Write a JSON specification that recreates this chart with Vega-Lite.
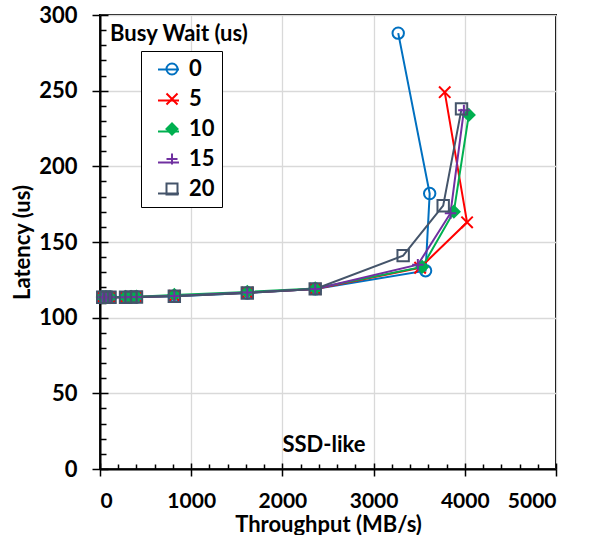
{
  "$schema": "https://vega.github.io/schema/vega-lite/v6.json",
  "autosize": {"type": "none"},
  "width": 456,
  "height": 454,
  "padding": {"left": 100, "top": 15, "right": 33, "bottom": 66},
  "background": "white",
  "config": {
    "view": {"stroke": "black", "strokeWidth": 2},
    "font": "Lato",
    "axis": {
      "labelFont": "Lato", "labelFontSize": 22, "labelFontWeight": "bold", "labelColor": "black",
      "titleFont": "Lato", "titleFontSize": 22, "titleFontWeight": "bold", "titleColor": "black",
      "gridColor": "#d9d9d9", "gridWidth": 1.3,
      "tickColor": "black", "tickWidth": 1.5,
      "domainColor": "black", "domainWidth": 2
    },
    "legend": {"labelFont": "Lato", "labelFontSize": 22, "labelFontWeight": "bold", "labelColor": "black"}
  },
  "datasets": {
    "pts": [
      {"s": "0", "i": 0, "x": 30, "y": 113.5}, {"s": "0", "i": 1, "x": 65, "y": 113.5}, {"s": "0", "i": 2, "x": 110, "y": 113.5},
      {"s": "0", "i": 3, "x": 280, "y": 113.5}, {"s": "0", "i": 4, "x": 340, "y": 113.6}, {"s": "0", "i": 5, "x": 400, "y": 113.7},
      {"s": "0", "i": 6, "x": 815, "y": 114.2}, {"s": "0", "i": 7, "x": 1615, "y": 116.3}, {"s": "0", "i": 8, "x": 2360, "y": 119},
      {"s": "0", "i": 9, "x": 3570, "y": 131}, {"s": "0", "i": 10, "x": 3615, "y": 182}, {"s": "0", "i": 11, "x": 3270, "y": 288},

      {"s": "5", "i": 0, "x": 30, "y": 113.5}, {"s": "5", "i": 1, "x": 65, "y": 113.5}, {"s": "5", "i": 2, "x": 110, "y": 113.5},
      {"s": "5", "i": 3, "x": 280, "y": 113.5}, {"s": "5", "i": 4, "x": 340, "y": 113.6}, {"s": "5", "i": 5, "x": 400, "y": 113.7},
      {"s": "5", "i": 6, "x": 815, "y": 114.4}, {"s": "5", "i": 7, "x": 1615, "y": 116.5}, {"s": "5", "i": 8, "x": 2360, "y": 119},
      {"s": "5", "i": 9, "x": 3510, "y": 133}, {"s": "5", "i": 10, "x": 4025, "y": 163}, {"s": "5", "i": 11, "x": 3780, "y": 249},

      {"s": "10", "i": 0, "x": 30, "y": 113.6}, {"s": "10", "i": 1, "x": 65, "y": 113.6}, {"s": "10", "i": 2, "x": 110, "y": 113.6},
      {"s": "10", "i": 3, "x": 280, "y": 113.7}, {"s": "10", "i": 4, "x": 340, "y": 113.8}, {"s": "10", "i": 5, "x": 400, "y": 113.9},
      {"s": "10", "i": 6, "x": 815, "y": 115}, {"s": "10", "i": 7, "x": 1615, "y": 117}, {"s": "10", "i": 8, "x": 2360, "y": 119.3},
      {"s": "10", "i": 9, "x": 3533, "y": 133.5}, {"s": "10", "i": 10, "x": 3880, "y": 170}, {"s": "10", "i": 11, "x": 4044, "y": 234},

      {"s": "15", "i": 0, "x": 30, "y": 113.5}, {"s": "15", "i": 1, "x": 65, "y": 113.5}, {"s": "15", "i": 2, "x": 110, "y": 113.5},
      {"s": "15", "i": 3, "x": 280, "y": 113.5}, {"s": "15", "i": 4, "x": 340, "y": 113.6}, {"s": "15", "i": 5, "x": 400, "y": 113.7},
      {"s": "15", "i": 6, "x": 815, "y": 114.3}, {"s": "15", "i": 7, "x": 1615, "y": 116.6}, {"s": "15", "i": 8, "x": 2360, "y": 119},
      {"s": "15", "i": 9, "x": 3485, "y": 135}, {"s": "15", "i": 10, "x": 3843, "y": 169}, {"s": "15", "i": 11, "x": 3990, "y": 237},

      {"s": "20", "i": 0, "x": 30, "y": 113.5}, {"s": "20", "i": 1, "x": 65, "y": 113.5}, {"s": "20", "i": 2, "x": 110, "y": 113.5},
      {"s": "20", "i": 3, "x": 280, "y": 113.5}, {"s": "20", "i": 4, "x": 340, "y": 113.6}, {"s": "20", "i": 5, "x": 400, "y": 113.7},
      {"s": "20", "i": 6, "x": 815, "y": 114.2}, {"s": "20", "i": 7, "x": 1615, "y": 116.3}, {"s": "20", "i": 8, "x": 2360, "y": 119},
      {"s": "20", "i": 9, "x": 3324, "y": 141}, {"s": "20", "i": 10, "x": 3763, "y": 174}, {"s": "20", "i": 11, "x": 3964, "y": 238}
    ],
    "notes": [
      {"label": "Busy Wait (us)", "x": 110, "y": 283},
      {"label": "SSD-like", "x": 2456, "y": 11.4}
    ]
  },
  "resolve": {"axis": {"x": "independent", "y": "independent"}},
  "layer": [
    {
      "data": {"name": "pts"},
      "mark": {"type": "line", "strokeWidth": 2},
      "encoding": {
        "x": {"field": "x", "type": "quantitative",
              "scale": {"domain": [0, 5000], "nice": false},
              "axis": {"orient": "bottom", "values": [0, 1000, 2000, 3000, 4000, 5000], "format": "d", "tickSize": 7, "labelPadding": 14, "labelFontSize": 21, "grid": true, "title": "Throughput (MB/s)", "titlePadding": 3}},
        "y": {"field": "y", "type": "quantitative",
              "scale": {"domain": [0, 300], "nice": false},
              "axis": {"orient": "left", "values": [0, 50, 100, 150, 200, 250, 300], "format": "d", "tickSize": 8, "labelPadding": 15, "grid": true, "title": "Latency (us)", "titlePadding": 4}},
        "stroke": {"field": "s", "type": "nominal",
                   "scale": {"domain": ["20", "15", "10", "5", "0"], "range": ["#44546A", "#7030A0", "#00B050", "#FF0000", "#0070C0"]},
                   "legend": {"orient": "none", "legendX": 41, "legendY": 36, "title": null, "padding": 7,
                              "values": ["0", "5", "10", "15", "20"], "labelExpr": "''",
                              "symbolType": "stroke", "symbolSize": 441, "symbolStrokeWidth": 2, "symbolOffset": 9,
                              "rowPadding": 8, "zindex": 2}},
        "order": {"field": "i", "type": "quantitative"}
      }
    },
    {
      "data": {"name": "pts"},
      "mark": {"type": "point", "filled": false, "strokeWidth": 2, "size": 130, "opacity": 1},
      "encoding": {
        "x": {"field": "x", "type": "quantitative",
              "axis": {"orient": "bottom", "values": [0, 200, 400, 600, 800, 1000, 1200, 1400, 1600, 1800, 2000, 2200, 2400, 2600, 2800, 3000, 3200, 3400, 3600, 3800, 4000, 4200, 4400, 4600, 4800, 5000],
                       "tickSize": {"condition": {"test": "datum.value % 1000 === 0", "value": -6}, "value": -5},
                       "labels": false, "domain": false, "grid": false, "title": null}},
        "y": {"field": "y", "type": "quantitative",
              "axis": {"orient": "left", "values": [0, 10, 20, 30, 40, 50, 60, 70, 80, 90, 100, 110, 120, 130, 140, 150, 160, 170, 180, 190, 200, 210, 220, 230, 240, 250, 260, 270, 280, 290, 300],
                       "tickSize": {"condition": {"test": "datum.value % 50 === 0", "value": -8}, "value": -6},
                       "labels": false, "domain": false, "grid": false, "title": null}},
        "color": {"field": "s", "type": "nominal",
                  "scale": {"domain": ["0", "5", "10", "15", "20"], "range": ["#0070C0", "#FF0000", "#00B050", "#7030A0", "#44546A"]},
                  "legend": {"orient": "none", "legendX": 41, "legendY": 36, "title": null, "padding": 7,
                             "strokeColor": "black", "fillColor": "white", "symbolSize": 121, "symbolStrokeWidth": 2,
                             "symbolOffset": 13, "labelOffset": 6, "rowPadding": 8, "labelColor": "black", "zindex": 1}},
        "shape": {"field": "s", "type": "nominal",
                  "scale": {"domain": ["0", "5", "10", "15", "20"], "range": ["circle", "M-1,-1L1,1M-1,1L1,-1", "diamond", "M-1,0L1,0M0,-1L0,1", "square"]}},
        "fill": {"field": "s", "type": "nominal",
                 "scale": {"domain": ["0", "5", "10", "15", "20"], "range": ["transparent", "transparent", "#00B050", "transparent", "transparent"]}}
      }
    },
    {
      "data": {"name": "notes"},
      "transform": [{"filter": "datum.label === 'Busy Wait (us)'"}],
      "mark": {"type": "text", "font": "Lato", "fontSize": 22, "fontWeight": "bold", "color": "black", "baseline": "alphabetic", "align": "left"},
      "encoding": {
        "x": {"field": "x", "type": "quantitative", "axis": null},
        "y": {"field": "y", "type": "quantitative", "axis": null},
        "text": {"field": "label"}
      }
    },
    {
      "data": {"name": "notes"},
      "transform": [{"filter": "datum.label === 'SSD-like'"}],
      "mark": {"type": "text", "font": "Lato", "fontSize": 22, "fontWeight": "bold", "color": "black", "baseline": "alphabetic", "align": "center"},
      "encoding": {
        "x": {"field": "x", "type": "quantitative", "axis": null},
        "y": {"field": "y", "type": "quantitative", "axis": null},
        "text": {"field": "label"}
      }
    }
  ]
}
